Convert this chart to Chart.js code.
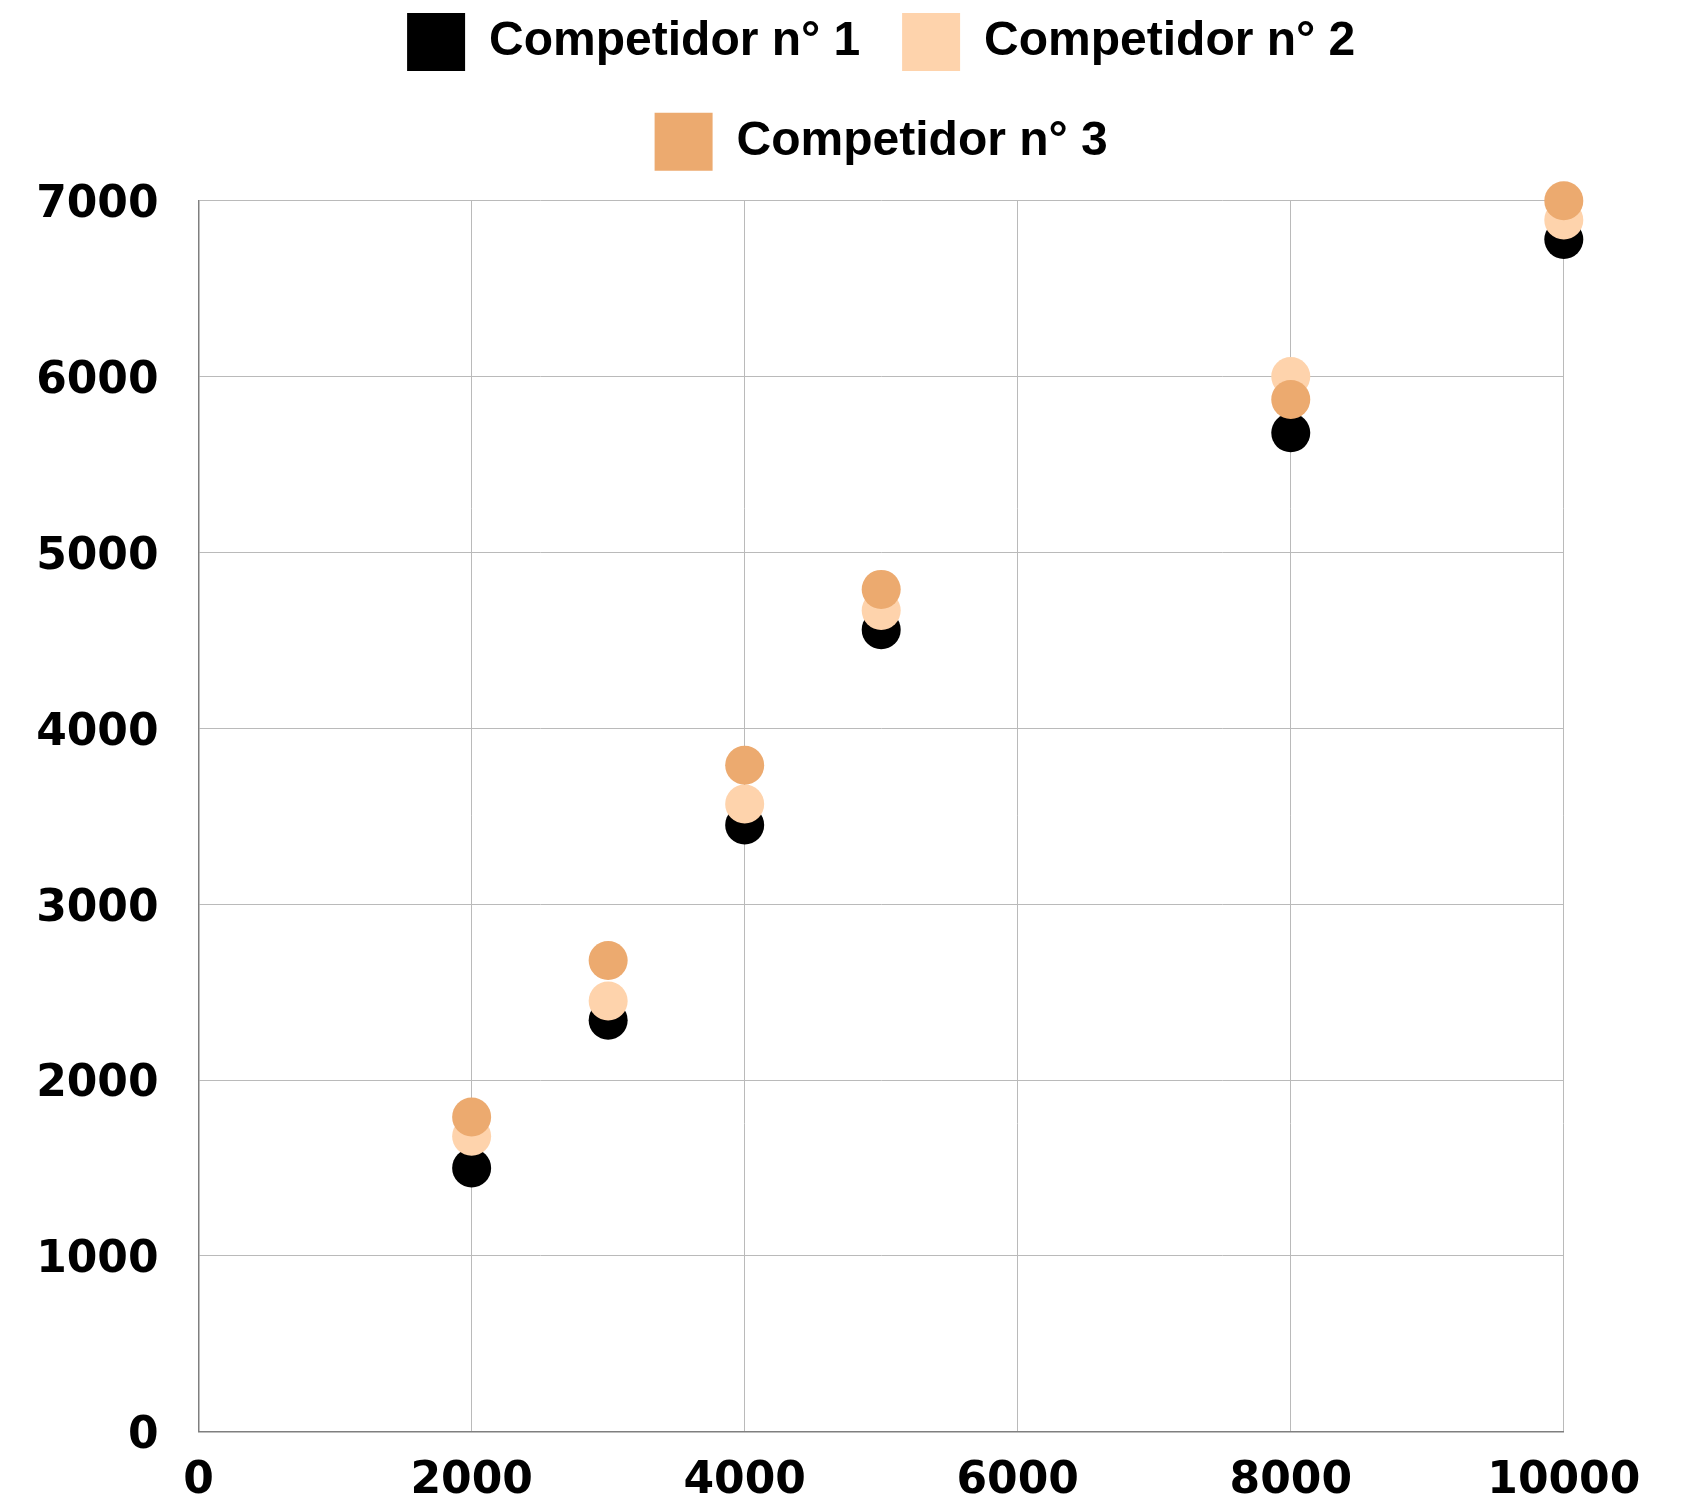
<!DOCTYPE html>
<html>
<head>
<meta charset="utf-8">
<script src="https://cdn.jsdelivr.net/npm/chart.js@4/dist/chart.umd.min.js"></script>
<style>
  html, body { margin: 0; padding: 0; background: #ffffff; }
  #wrap { width: 1683px; height: 1502px; position: relative; }
</style>
</head>
<body>
<div id="wrap"><canvas id="c"></canvas></div>
<script>
// ---- data ----
const seriesNames = ["Competidor n° 1", "Competidor n° 2", "Competidor n° 3"];
const xValues = [2000, 3000, 4000, 5000, 8000, 10000];
const comp1 = [1500, 2340, 3450, 4560, 5680, 6780];
const comp2 = [1680, 2450, 3570, 4670, 6000, 6890];
const comp3 = [1790, 2680, 3790, 4790, 5870, 7000];
const xTicks = [0, 2000, 4000, 6000, 8000, 10000];
const yTicks = [0, 1000, 2000, 3000, 4000, 5000, 6000, 7000];
const colors = ["#000000", "#FED3AC", "#ECAA6F"];

const toPoints = (ys) => xValues.map((x, i) => ({ x: x, y: ys[i] }));
const allSeries = [comp1, comp2, comp3];

const datasets = allSeries.map((ys, i) => ({
  label: seriesNames[i],
  data: toPoints(ys),
  backgroundColor: colors[i],
  borderColor: colors[i],
  borderWidth: 0,
  pointRadius: 19.5,
  pointHoverRadius: 19.5,
  pointBorderWidth: 0,
  showLine: false,
  clip: false,
  order: allSeries.length - i
}));

const tickFont = { family: "'DejaVu Sans', sans-serif", weight: 'bold', size: 44, lineHeight: 1 };

new Chart(document.getElementById('c'), {
  type: 'scatter',
  data: { datasets: datasets },
  options: {
    responsive: true,
    maintainAspectRatio: false,
    animation: false,
    color: '#000000',
    layout: { padding: { top: -28.9, left: 34, right: 119.2, bottom: -29.8 } },
    plugins: {
      tooltip: { enabled: false },
      title: {
        display: true,
        text: '',
        weight: 500,
        font: { size: 1, lineHeight: 1 },
        padding: { top: 0, bottom: 19 }
      },
      legend: {
        position: 'top',
        align: 'center',
        fullSize: false,
        labels: {
          boxWidth: 58,
          boxHeight: 58,
          padding: 41.8,
          color: '#000000',
          font: { family: "'Liberation Sans', Arial, sans-serif", weight: 'bold', size: 48 },
          sort: (a, b) => a.datasetIndex - b.datasetIndex
        }
      }
    },
    scales: {
      x: {
        type: 'linear',
        min: 0,
        max: 10000,
        afterBuildTicks: (s) => { s.ticks = xTicks.map(v => ({ value: v })); },
        ticks: {
          color: '#000000',
          font: tickFont,
          padding: 28,
          maxRotation: 0,
          autoSkip: false,
          callback: (v) => String(v)
        },
        grid: { color: '#bababa', lineWidth: 1, drawTicks: false },
        border: { color: '#7f7f7f', width: 1.5 }
      },
      y: {
        type: 'linear',
        min: 0,
        max: 7000,
        afterBuildTicks: (s) => { s.ticks = yTicks.map(v => ({ value: v })); },
        afterFit: (s) => { s.width = 164.6; },
        ticks: {
          color: '#000000',
          font: tickFont,
          padding: 40,
          labelOffset: 5,
          autoSkip: false,
          callback: (v) => String(v)
        },
        grid: { color: '#bababa', lineWidth: 1, drawTicks: false },
        border: { color: '#7f7f7f', width: 1.5 }
      }
    }
  }
});
</script>
</body>
</html>
